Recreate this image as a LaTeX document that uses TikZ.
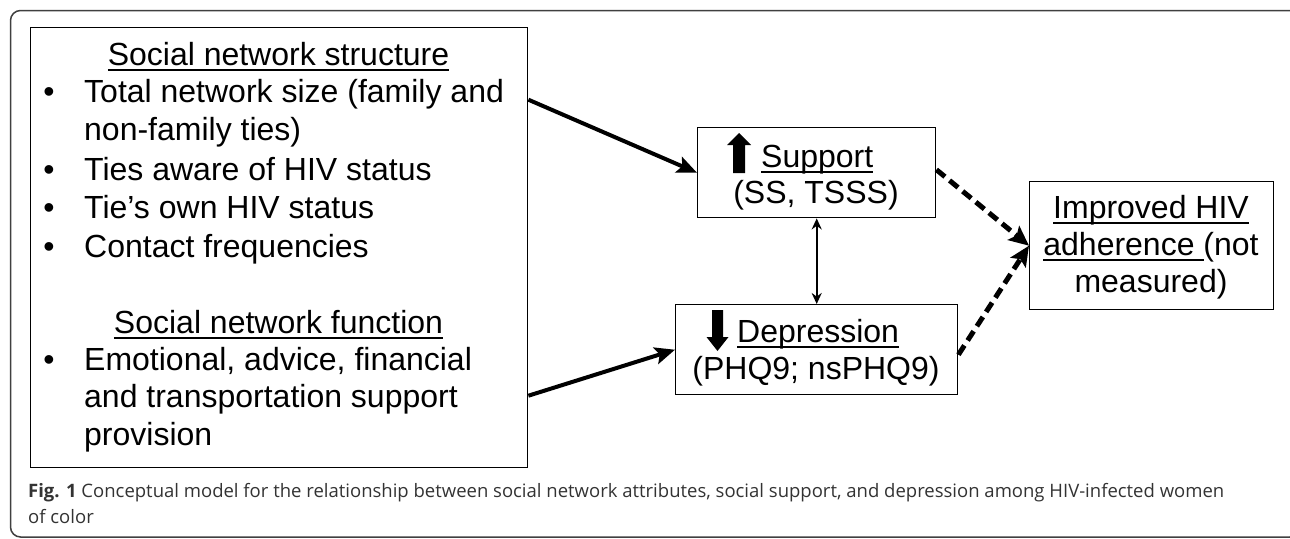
\documentclass[tikz,border=0pt]{standalone}
\usepackage{fontspec}
\setmainfont{Liberation Sans}
\newfontfamily\capfont{Open Sans}
\usetikzlibrary{arrows.meta}
\newcommand\myul[1]{\setbox0\hbox{#1}\rlap{\rule[-6pt]{\wd0}{2pt}}\box0}
\tikzset{
  txt/.style={font=\fontsize{32}{38}\selectfont, inner sep=0pt},
  boxnode/.style={draw, line width=1.4pt, inner sep=0pt},
  solidarr/.style={line width=4pt, -{Stealth[length=20pt,width=17pt,inset=4pt]}},
  dasharr/.style={line width=5pt, dash pattern=on 11pt off 6pt, -{Stealth[length=20pt,width=18pt,inset=4pt]}},
  dblarr/.style={line width=2pt, {Stealth[length=11pt,width=10pt]}-{Stealth[length=11pt,width=10pt]}},
  captxt/.style={font=\capfont\fontsize{18.5}{26}\selectfont, text=black!80, inner sep=0pt, anchor=base west}
}
\begin{document}
\begin{tikzpicture}[x=1pt,y=-1pt]
\useasboundingbox (0,0) rectangle (1290,538);
% outer frame
\draw[line width=1.5pt, black!75, rounded corners=10pt] (10.5,10.5) rectangle (1300,537);
% boxes
\node[boxnode, minimum width=497pt, minimum height=440pt, anchor=north west] (net) at (30,27) {};
\node[boxnode, minimum width=238pt, minimum height=90pt, anchor=north west] (sup) at (697,127) {};
\node[boxnode, minimum width=282pt, minimum height=90pt, anchor=north west] (dep) at (675,304) {};
\node[boxnode, minimum width=244pt, minimum height=128pt, anchor=north west] (imp) at (1029,181) {};
% left box text
\node[txt, anchor=base] (h1) at (278.5,65) {\myul{Social network structure}};
\node[txt, anchor=base] (b1) at (49,102) {•};
\node[txt, anchor=base west] (t1) at (84,102) {Total network size (family and};
\node[txt, anchor=base west] (t1b) at (84,140) {non-family ties)};
\node[txt, anchor=base] (b2) at (49,180) {•};
\node[txt, anchor=base west] (t2) at (84,180) {Ties aware of HIV status};
\node[txt, anchor=base] (b3) at (49,218) {•};
\node[txt, anchor=base west] (t3) at (84,218) {Tie’s own HIV status};
\node[txt, anchor=base] (b4) at (49,257) {•};
\node[txt, anchor=base west] (t4) at (84,257) {Contact frequencies};
\node[txt, anchor=base] (h2) at (278.5,333) {\myul{Social network function}};
\node[txt, anchor=base] (b5) at (49,370) {•};
\node[txt, anchor=base west] (t5) at (84,370) {Emotional, advice, financial};
\node[txt, anchor=base west] (t5b) at (84,407) {and transportation support};
\node[txt, anchor=base west] (t5c) at (84,445) {provision};
% support box text
\fill (733,173) -- (733,145) -- (727,145) -- (739,133) -- (751,145) -- (745,145) -- (745,173) -- cycle;
\node[txt, anchor=base west] (s1) at (761,167) {\myul{Support}};
\node[txt, anchor=base] (s2) at (816,203) {(SS, TSSS)};
% depression box text
\fill (712,310) -- (723,310) -- (723,337) -- (728.5,337) -- (717.5,351) -- (706.5,337) -- (712,337) -- cycle;
\node[txt, anchor=base west] (d1) at (737,342) {\myul{Depression}};
\node[txt, anchor=base] (d2) at (816,379) {(PHQ9; nsPHQ9)};
% improved box text
\node[txt, anchor=base] (i1) at (1151,218) {\myul{Improved HIV}};
\node[txt, anchor=base] (i2) at (1151,255) {\myul{adherence }(not};
\node[txt, anchor=base] (i3) at (1151,292) {measured)};
% connectors
\draw[solidarr] ([yshift=148pt]net.east) -- (sup.west);
\draw[solidarr] ([yshift=-148pt]net.east) -- (dep.west);
\draw[dblarr] (sup.south) -- (dep.north);
\draw[dasharr] ([yshift=3pt]sup.east) -- (imp.west);
\draw[dasharr] ([yshift=-5pt]dep.east) -- (imp.west);
% caption
\node[captxt] (c1) at (28,497) {\textbf{Fig. 1} Conceptual model for the relationship between social network attributes, social support, and depression among HIV-infected women};
\node[captxt] (c2) at (28,523) {of color};
\end{tikzpicture}
\end{document}
